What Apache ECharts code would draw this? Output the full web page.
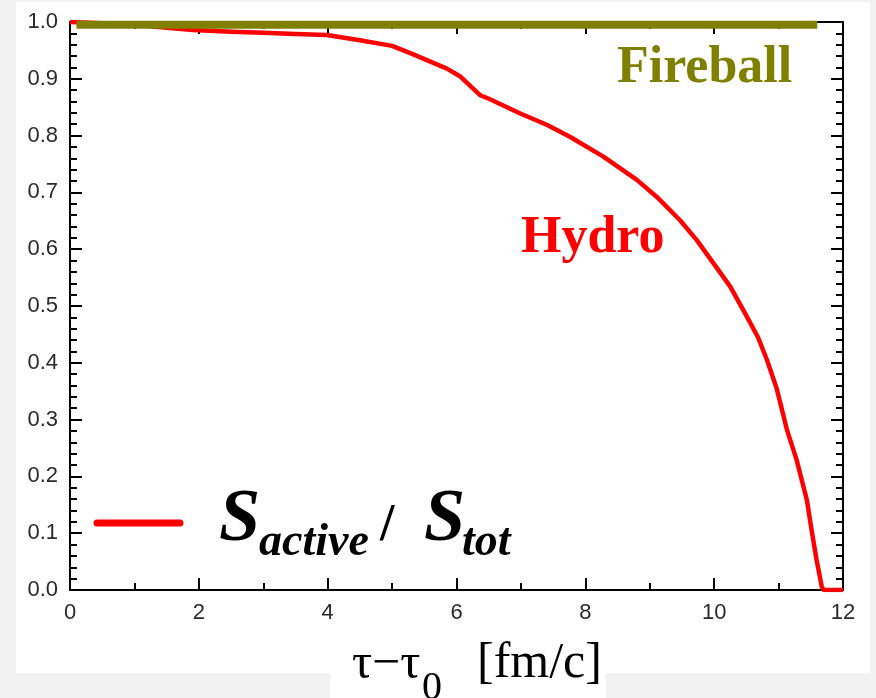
<!DOCTYPE html>
<html>
<head>
<meta charset="utf-8">
<script src="https://cdn.jsdelivr.net/npm/echarts@6/dist/echarts.min.js"></script>
<style>
html,body{margin:0;padding:0;background:#f2f2f2;}
#c{width:876px;height:698px;}
</style>
</head>
<body>
<div id="c"></div>
<script>
// Data
const tau = [0, 0.5, 1.0, 1.5, 1.91, 2.5, 3.0, 3.5, 3.99, 4.5, 5.0, 5.33, 5.85, 6.06, 6.37, 6.52, 6.99, 7.40, 7.76, 8.28, 8.80, 9.11, 9.47, 9.73, 9.99, 10.25, 10.51, 10.68, 10.82, 10.97, 11.13, 11.28, 11.44, 11.52, 11.59, 11.67, 11.7, 12.0];
const hydro = [1.0, 0.998, 0.995, 0.99, 0.986, 0.983, 0.981, 0.979, 0.977, 0.968, 0.958, 0.943, 0.918, 0.904, 0.871, 0.864, 0.839, 0.819, 0.798, 0.763, 0.722, 0.692, 0.651, 0.616, 0.575, 0.534, 0.481, 0.445, 0.405, 0.355, 0.282, 0.229, 0.158, 0.100, 0.053, 0.006, 0.0, 0.0];
const fireballTau = [0.1, 11.6];
const fireballVal = [0.995, 0.995];
const xTicks = [0, 2, 4, 6, 8, 10, 12];
const yTicks = [0.0, 0.1, 0.2, 0.3, 0.4, 0.5, 0.6, 0.7, 0.8, 0.9, 1.0];

const chart = echarts.init(document.getElementById('c'), null, {renderer: 'canvas'});
const serif = '"Liberation Serif", "Times New Roman", serif';
const sans = '"Liberation Sans", Arial, sans-serif';

const axisCommon = {
  axisLine: {show: true, onZero: false, lineStyle: {color: '#000', width: 2}},
  axisTick: {show: true, inside: true, length: 12, lineStyle: {color: '#000', width: 2}},
  minorTick: {show: true, length: 7, lineStyle: {color: '#000', width: 2}},
  splitLine: {show: false}
};

const option = {
  animation: false,
  backgroundColor: '#f2f2f2',
  grid: {left: 70, top: 22, right: 33, bottom: 108, containLabel: false},
  xAxis: [
    Object.assign({}, axisCommon, {
      type: 'value', position: 'bottom', min: xTicks[0], max: xTicks[xTicks.length - 1], interval: 2,
      minorTick: Object.assign({}, axisCommon.minorTick, {splitNumber: 2}),
      axisLabel: {color: '#2a2a2a', fontSize: 22, fontFamily: sans, margin: 12,
        formatter: v => xTicks.includes(v) ? String(v) : ''}
    }),
    Object.assign({}, axisCommon, {
      type: 'value', position: 'top', min: xTicks[0], max: xTicks[xTicks.length - 1], interval: 2,
      minorTick: Object.assign({}, axisCommon.minorTick, {splitNumber: 2}),
      axisLabel: {show: false}
    })
  ],
  yAxis: [
    Object.assign({}, axisCommon, {
      type: 'value', position: 'left', min: yTicks[0], max: yTicks[yTicks.length - 1], interval: 0.1,
      minorTick: Object.assign({}, axisCommon.minorTick, {splitNumber: 5}),
      axisLabel: {color: '#2a2a2a', fontSize: 22, fontFamily: sans, margin: 12,
        formatter: v => v.toFixed(1)}
    }),
    Object.assign({}, axisCommon, {
      type: 'value', position: 'right', min: yTicks[0], max: yTicks[yTicks.length - 1], interval: 0.1,
      minorTick: Object.assign({}, axisCommon.minorTick, {splitNumber: 5}),
      axisLabel: {show: false}
    })
  ],
  series: [
    {
      name: 'Hydro', type: 'line', xAxisIndex: 0, yAxisIndex: 0,
      data: tau.map((t, i) => [t, hydro[i]]),
      showSymbol: false, symbol: 'none', smooth: false, silent: true,
      lineStyle: {color: '#ff0000', width: 4.5, join: 'round'}, z: 3
    },
    {
      name: 'Fireball', type: 'line', xAxisIndex: 0, yAxisIndex: 0,
      data: fireballTau.map((t, i) => [t, fireballVal[i]]),
      showSymbol: false, symbol: 'none', silent: true,
      lineStyle: {color: '#808000', width: 8, cap: 'butt'}, z: 4
    }
  ],
  graphic: [
    {type: 'rect', z: -10, shape: {x: 16, y: 2, width: 854, height: 671}, style: {fill: '#ffffff'}},
    {type: 'rect', z: -10, shape: {x: 330, y: 640, width: 276, height: 58}, style: {fill: '#ffffff'}},
    {type: 'text', x: 617, y: 69, style: {text: 'Fireball', fill: '#808000', font: 'bold 52px ' + serif, verticalAlign: 'middle', align: 'left'}},
    {type: 'text', x: 521, y: 239, style: {text: 'Hydro', fill: '#ff0000', font: 'bold 52px ' + serif, verticalAlign: 'middle', align: 'left'}},
    {type: 'line', shape: {x1: 97, y1: 523, x2: 180, y2: 523}, style: {stroke: '#ff0000', lineWidth: 7, lineCap: 'round'}},
    {type: 'text', x: 219, y: 521, style: {text: 'S', fill: '#000', font: 'italic bold 74px ' + serif, verticalAlign: 'middle', align: 'left'}},
    {type: 'text', x: 259, y: 543, style: {text: 'active', fill: '#000', font: 'italic bold 46px ' + serif, verticalAlign: 'middle', align: 'left'}},
    {type: 'text', x: 380, y: 527, style: {text: '/', fill: '#000', font: 'bold 52px ' + serif, verticalAlign: 'middle', align: 'left'}},
    {type: 'text', x: 424, y: 521, style: {text: 'S', fill: '#000', font: 'italic bold 74px ' + serif, verticalAlign: 'middle', align: 'left'}},
    {type: 'text', x: 462, y: 543, style: {text: 'tot', fill: '#000', font: 'italic bold 46px ' + serif, verticalAlign: 'middle', align: 'left'}},
    {type: 'text', x: 352, y: 665, style: {text: 'τ−τ', fill: '#000', font: '50px ' + serif, verticalAlign: 'middle', align: 'left'}},
    {type: 'text', x: 422, y: 688, style: {text: '0', fill: '#000', font: '40px ' + serif, verticalAlign: 'middle', align: 'left'}},
    {type: 'text', x: 477, y: 664, style: {text: '[fm/c]', fill: '#000', font: '50px ' + serif, verticalAlign: 'middle', align: 'left'}}
  ]
};
chart.setOption(option);
</script>
</body>
</html>
